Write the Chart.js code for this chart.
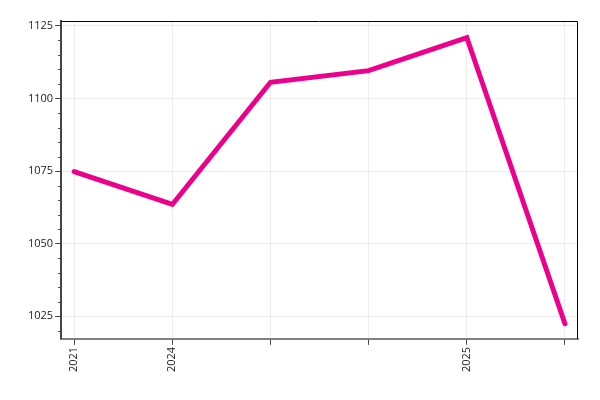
<!DOCTYPE html>
<html>
<head>
<meta charset="utf-8">
<script src="https://cdn.jsdelivr.net/npm/chart.js@4"></script>
<style>
  html, body { margin: 0; padding: 0; background: #fff; }
  #wrap { width: 600px; height: 400px; }
</style>
</head>
<body>
<div id="wrap"><canvas id="chart"></canvas></div>
<script>
// data
const xLabels = ["2021", "2024", "", "", "2025", ""];
const values = [1074.8, 1063.5, 1105.6, 1109.6, 1121, 1022.4];
const yMajorTicks = [1025, 1050, 1075, 1100, 1125];
const yMinorStep = 5;

// black frame on top and right of the plot area
const frameLines = {
  id: "frameLines",
  afterDraw(chart) {
    const { ctx, chartArea: a } = chart;
    ctx.save();
    ctx.strokeStyle = "#000";
    ctx.lineWidth = 1;
    ctx.beginPath();
    ctx.moveTo(a.left, a.top + 0.5);
    ctx.lineTo(a.right - 0.5, a.top + 0.5);
    ctx.lineTo(a.right - 0.5, a.bottom);
    ctx.stroke();
    ctx.restore();
  },
};

// small ticks every 5 units on the y axis
const minorTicks = {
  id: "minorTicks",
  afterDraw(chart) {
    const { ctx } = chart;
    const y = chart.scales.y;
    const x0 = chart.chartArea.left;
    ctx.save();
    ctx.strokeStyle = "#444";
    ctx.lineWidth = 1;
    ctx.beginPath();
    const start = Math.ceil(y.min / yMinorStep) * yMinorStep;
    for (let v = start; v <= y.max; v += yMinorStep) {
      if (yMajorTicks.includes(v)) continue;
      const py = Math.round(y.getPixelForValue(v)) + 0.5;
      ctx.moveTo(x0 - 3, py);
      ctx.lineTo(x0, py);
    }
    ctx.stroke();
    ctx.restore();
  },
};

const ctx = document.getElementById("chart").getContext("2d");
Chart.defaults.font.family = "'Open Sans', sans-serif";
Chart.defaults.font.size = 11;
Chart.defaults.color = "#222";

new Chart(ctx, {
  type: "line",
  data: {
    datasets: [
      {
        data: values.map((v, i) => ({ x: i, y: v })),
        borderColor: "#ec008c",
        borderWidth: 5,
        borderCapStyle: "round",
        pointRadius: 0,
        tension: 0,
        fill: false,
      },
    ],
  },
  options: {
    responsive: true,
    maintainAspectRatio: false,
    animation: false,
    layout: { padding: { top: 21, right: 22, bottom: 26, left: 26 } },
    plugins: { legend: { display: false }, tooltip: { enabled: false } },
    scales: {
      x: {
        type: "linear",
        min: -0.133,
        max: 5.133,
        afterBuildTicks: (axis) => {
          axis.ticks = xLabels.map((_, i) => ({ value: i }));
        },
        ticks: {
          autoSkip: false,
          maxRotation: 90,
          minRotation: 90,
          padding: 2,
          callback: (v) => xLabels[v] ?? "",
        },
        grid: { color: "#ececec", tickColor: "#444", tickLength: 6 },
        border: { color: "#808080", width: 2 },
      },
      y: {
        min: 1017.2,
        max: 1126.7,
        afterBuildTicks: (axis) => {
          axis.ticks = yMajorTicks.map((v) => ({ value: v }));
        },
        ticks: { padding: 2, callback: (v) => String(v) },
        grid: { color: "#ececec", tickColor: "#444", tickLength: 6 },
        border: { color: "#444", width: 2 },
      },
    },
  },
  plugins: [frameLines, minorTicks],
});
</script>
</body>
</html>
